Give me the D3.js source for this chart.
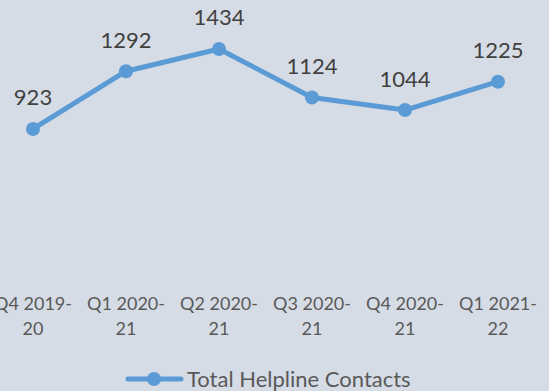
<!DOCTYPE html>
<html>
<head>
<meta charset="utf-8">
<script src="https://cdn.jsdelivr.net/npm/d3@7"></script>
<style>
  html, body { margin: 0; padding: 0; background: #d6dce5; }
  svg { display: block; }
</style>
</head>
<body>
<svg id="chart" width="549" height="391"></svg>
<script>
// Quarterly helpline contact totals
const quarters = ["Q4 2019-20", "Q1 2020-21", "Q2 2020-21", "Q3 2020-21", "Q4 2020-21", "Q1 2021-22"];
const quarterLines = [["Q4 2019-", "20"], ["Q1 2020-", "21"], ["Q2 2020-", "21"], ["Q3 2020-", "21"], ["Q4 2020-", "21"], ["Q1 2021-", "22"]];
const contacts = [923, 1292, 1434, 1124, 1044, 1225];
const seriesName = "Total Helpline Contacts";

const W = 549, H = 391;
const lineColor = "#5b9bd5";
const fontFamily = "Lato, 'Open Sans', 'Noto Sans', sans-serif";

const svg = d3.select("#chart");
svg.append("rect").attr("width", W).attr("height", H).attr("fill", "#d6dce5");

const x = d3.scalePoint().domain(quarters).range([-13.5, 544.5]).padding(0.5);
const y = d3.scaleLinear().domain([0, 1600]).range([273.5, 23]);

const data = quarters.map((q, i) => ({ q, v: contacts[i], lines: quarterLines[i] }));

// Category axis labels (two lines each)
const xLab = svg.append("g");
data.forEach(d => {
  const t = xLab.append("text")
    .attr("x", x(d.q))
    .attr("y", 310)
    .attr("text-anchor", "middle")
    .attr("fill", "#595959")
    .attr("font-family", fontFamily)
    .attr("font-size", 18);
  d.lines.forEach((ln, j) => {
    t.append("tspan").attr("x", x(d.q)).attr("dy", j === 0 ? 0 : 25).text(ln);
  });
});

// Series line
const line = d3.line().x(d => x(d.q)).y(d => y(d.v));
svg.append("path")
  .datum(data)
  .attr("d", line)
  .attr("fill", "none")
  .attr("stroke", lineColor)
  .attr("stroke-width", 5)
  .attr("stroke-linejoin", "round");

// Markers
svg.append("g").selectAll("circle")
  .data(data)
  .join("circle")
  .attr("cx", d => x(d.q))
  .attr("cy", d => y(d.v))
  .attr("r", 7)
  .attr("fill", lineColor);

// Value labels
svg.append("g").selectAll("text")
  .data(data)
  .join("text")
  .attr("x", d => x(d.q))
  .attr("y", d => y(d.v) - 23.5)
  .attr("text-anchor", "middle")
  .attr("fill", "#404040")
  .attr("font-family", fontFamily)
  .attr("font-size", 22)
  .text(d => d.v);

// Legend
const lg = svg.append("g").attr("transform", "translate(0,379)");
lg.append("line")
  .attr("x1", 128).attr("x2", 181).attr("y1", 0).attr("y2", 0)
  .attr("stroke", lineColor).attr("stroke-width", 5).attr("stroke-linecap", "round");
lg.append("circle").attr("cx", 154).attr("cy", 0).attr("r", 7).attr("fill", lineColor);
lg.append("text")
  .attr("x", 187).attr("y", 7.5)
  .attr("fill", "#595959")
  .attr("font-family", fontFamily)
  .attr("font-size", 22)
  .text(seriesName);
</script>
</body>
</html>
